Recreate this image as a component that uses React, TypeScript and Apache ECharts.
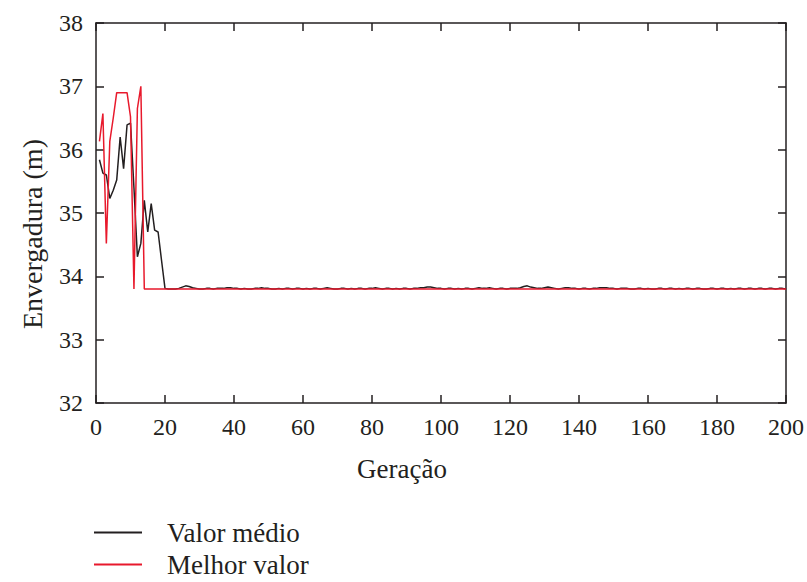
import React, { useEffect, useRef } from "react";
import * as echarts from "echarts";

const yTicks = [32, 33, 34, 35, 36, 37, 38];
const xTicks = [0, 20, 40, 60, 80, 100, 120, 140, 160, 180, 200];
const seriesNames = ["Valor médio", "Melhor valor"];

// Valor médio, generations 1..200
const meanValues = [
  35.84, 35.63, 35.6, 35.23, 35.36, 35.52, 36.2, 35.7, 36.39, 36.42, 35.4, 34.31, 34.52, 35.2, 34.7, 35.15, 34.73, 34.7, 34.25, 33.81,
  33.8, 33.8, 33.8, 33.81, 33.83, 33.85, 33.84, 33.82, 33.81, 33.8, 33.8, 33.81, 33.81, 33.8, 33.81, 33.81, 33.81, 33.82, 33.82, 33.81,
  33.81, 33.8, 33.81, 33.8, 33.8, 33.81, 33.81, 33.82, 33.81, 33.81, 33.8, 33.8, 33.81, 33.8, 33.81, 33.81, 33.8, 33.81, 33.81, 33.8,
  33.81, 33.8, 33.81, 33.81, 33.8, 33.81, 33.82, 33.81, 33.8, 33.8, 33.81, 33.81, 33.8, 33.81, 33.8, 33.81, 33.81, 33.8, 33.81, 33.81,
  33.82, 33.81, 33.8, 33.81, 33.81, 33.8, 33.81, 33.8, 33.81, 33.81, 33.8, 33.81, 33.81, 33.82, 33.82, 33.83, 33.83, 33.82, 33.81, 33.81,
  33.8, 33.81, 33.81, 33.8, 33.81, 33.8, 33.81, 33.81, 33.8, 33.81, 33.82, 33.81, 33.81, 33.82, 33.81, 33.8, 33.81, 33.81, 33.8, 33.81,
  33.81, 33.81, 33.82, 33.84, 33.85, 33.83, 33.82, 33.81, 33.81, 33.82, 33.83, 33.82, 33.81, 33.8, 33.81, 33.82, 33.82, 33.81, 33.81, 33.8,
  33.81, 33.81, 33.8, 33.81, 33.81, 33.82, 33.82, 33.82, 33.81, 33.81, 33.8, 33.81, 33.81, 33.81, 33.8, 33.8, 33.81, 33.81, 33.8, 33.81,
  33.8, 33.8, 33.81, 33.81, 33.8, 33.81, 33.81, 33.8, 33.81, 33.8, 33.81, 33.81, 33.8, 33.81, 33.81, 33.8, 33.8, 33.81, 33.81, 33.8,
  33.81, 33.81, 33.8, 33.81, 33.8, 33.81, 33.81, 33.8, 33.81, 33.81, 33.8, 33.81, 33.81, 33.8, 33.81, 33.81, 33.8, 33.81, 33.81, 33.8,
];

// Melhor valor, generations 1..200
const bestValues = [
  36.13, 36.57, 34.52, 36.13, 36.5, 36.9, 36.9, 36.9, 36.9, 36.52, 33.8, 36.65, 37.0, 33.8, 33.8, 33.8, 33.8, 33.8, 33.8, 33.8,
  33.8, 33.8, 33.8, 33.8, 33.8, 33.8, 33.8, 33.8, 33.8, 33.8, 33.8, 33.8, 33.8, 33.8, 33.8, 33.8, 33.8, 33.8, 33.8, 33.8,
  33.8, 33.8, 33.8, 33.8, 33.8, 33.8, 33.8, 33.8, 33.8, 33.8, 33.8, 33.8, 33.8, 33.8, 33.8, 33.8, 33.8, 33.8, 33.8, 33.8,
  33.8, 33.8, 33.8, 33.8, 33.8, 33.8, 33.8, 33.8, 33.8, 33.8, 33.8, 33.8, 33.8, 33.8, 33.8, 33.8, 33.8, 33.8, 33.8, 33.8,
  33.8, 33.8, 33.8, 33.8, 33.8, 33.8, 33.8, 33.8, 33.8, 33.8, 33.8, 33.8, 33.8, 33.8, 33.8, 33.8, 33.8, 33.8, 33.8, 33.8,
  33.8, 33.8, 33.8, 33.8, 33.8, 33.8, 33.8, 33.8, 33.8, 33.8, 33.8, 33.8, 33.8, 33.8, 33.8, 33.8, 33.8, 33.8, 33.8, 33.8,
  33.8, 33.8, 33.8, 33.8, 33.8, 33.8, 33.8, 33.8, 33.8, 33.8, 33.8, 33.8, 33.8, 33.8, 33.8, 33.8, 33.8, 33.8, 33.8, 33.8,
  33.8, 33.8, 33.8, 33.8, 33.8, 33.8, 33.8, 33.8, 33.8, 33.8, 33.8, 33.8, 33.8, 33.8, 33.8, 33.8, 33.8, 33.8, 33.8, 33.8,
  33.8, 33.8, 33.8, 33.8, 33.8, 33.8, 33.8, 33.8, 33.8, 33.8, 33.8, 33.8, 33.8, 33.8, 33.8, 33.8, 33.8, 33.8, 33.8, 33.8,
  33.8, 33.8, 33.8, 33.8, 33.8, 33.8, 33.8, 33.8, 33.8, 33.8, 33.8, 33.8, 33.8, 33.8, 33.8, 33.8, 33.8, 33.8, 33.8, 33.8,
];

const FONT = "Liberation Serif";
const INK = "#231f20";
const RED = "#e8192c";

export default function App() {
  const ref = useRef<HTMLDivElement>(null);

  useEffect(() => {
    document.body.style.margin = "0";
    document.body.style.overflow = "hidden";
    document.documentElement.style.overflow = "hidden";
    if (!ref.current) return;
    const chart = echarts.init(ref.current, undefined, { renderer: "svg" });
    const xMin = xTicks[0];
    const xMax = xTicks[xTicks.length - 1];
    const xInt = xTicks[1] - xTicks[0];
    const yMin = yTicks[0];
    const yMax = yTicks[yTicks.length - 1];
    const yInt = yTicks[1] - yTicks[0];
    const axisLine = { show: true, onZero: false, lineStyle: { color: INK, width: 1.5 } };
    const axisTick = { show: true, inside: true, length: 8, lineStyle: { color: INK, width: 1.5 } };

    chart.setOption({
      animation: false,
      backgroundColor: "#ffffff",
      textStyle: { fontFamily: FONT },
      grid: { left: 96, right: 20, top: 23, bottom: 179, containLabel: false },
      xAxis: [
        {
          type: "value",
          min: xMin,
          max: xMax,
          interval: xInt,
          position: "bottom",
          axisLine,
          axisTick,
          splitLine: { show: false },
          axisLabel: { color: INK, fontFamily: FONT, fontSize: 24, margin: 12 },
        },
        {
          type: "value",
          min: xMin,
          max: xMax,
          interval: xInt,
          position: "top",
          axisLine,
          axisTick,
          splitLine: { show: false },
          axisLabel: { show: false },
        },
      ],
      yAxis: [
        {
          type: "value",
          min: yMin,
          max: yMax,
          interval: yInt,
          position: "left",
          axisLine,
          axisTick,
          splitLine: { show: false },
          axisLabel: { color: INK, fontFamily: FONT, fontSize: 24, margin: 13 },
        },
        {
          type: "value",
          min: yMin,
          max: yMax,
          interval: yInt,
          position: "right",
          axisLine,
          axisTick,
          splitLine: { show: false },
          axisLabel: { show: false },
        },
      ],
      legend: {
        orient: "vertical",
        left: 94,
        top: 519,
        padding: 0,
        itemWidth: 48,
        itemHeight: 2,
        itemGap: 5,
        icon: "rect",
        textStyle: {
          color: INK,
          fontFamily: FONT,
          fontSize: 27,
          lineHeight: 27,
          padding: [0, 0, 0, 20],
        },
        data: seriesNames,
      },
      series: [
        {
          name: seriesNames[0],
          type: "line",
          data: meanValues.map((v, i) => [i + 1, v]),
          showSymbol: false,
          symbol: "none",
          color: INK,
          lineStyle: { color: INK, width: 1.5 },
          itemStyle: { color: INK },
        },
        {
          name: seriesNames[1],
          type: "line",
          data: bestValues.map((v, i) => [i + 1, v]),
          showSymbol: false,
          symbol: "none",
          color: RED,
          lineStyle: { color: RED, width: 1.5 },
          itemStyle: { color: RED },
        },
      ],
      graphic: [
        {
          type: "text",
          x: 402,
          y: 469,
          style: {
            text: "Geração",
            fill: INK,
            fontFamily: FONT,
            fontSize: 27,
            textAlign: "center",
            textVerticalAlign: "middle",
          },
        },
        {
          type: "text",
          x: 32,
          y: 234,
          rotation: Math.PI / 2,
          style: {
            text: "Envergadura (m)",
            fill: INK,
            fontFamily: FONT,
            fontSize: 28,
            textAlign: "center",
            textVerticalAlign: "middle",
          },
        },
      ],
    });
    return () => chart.dispose();
  }, []);

  return <div ref={ref} style={{ width: 807, height: 582 }} />;
}
